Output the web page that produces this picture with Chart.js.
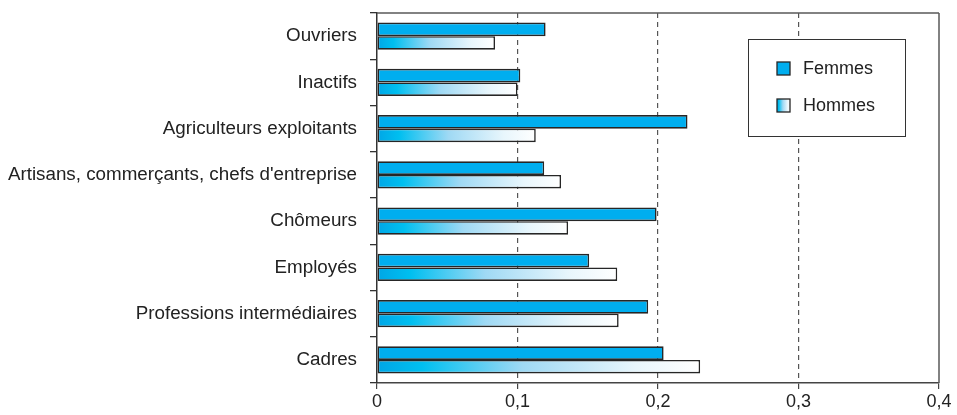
<!DOCTYPE html>
<html>
<head>
<meta charset="utf-8">
<script src="https://cdn.jsdelivr.net/npm/chart.js@4.4.0/dist/chart.umd.min.js"></script>
<style>
  html, body { margin: 0; padding: 0; background: #fff; }
  #wrap { width: 957px; height: 415px; position: relative; }
</style>
</head>
<body>
<div id="wrap"><canvas id="myChart" width="957" height="415"></canvas></div>
<script>
const categories = [
  "Ouvriers",
  "Inactifs",
  "Agriculteurs exploitants",
  "Artisans, commerçants, chefs d'entreprise",
  "Chômeurs",
  "Employés",
  "Professions intermédiaires",
  "Cadres"
];
const femmes = [0.120, 0.102, 0.221, 0.119, 0.199, 0.151, 0.193, 0.204];
const hommes = [0.084, 0.100, 0.113, 0.131, 0.136, 0.171, 0.172, 0.230];
const xTicks = [0, 0.1, 0.2, 0.3, 0.4];

const blue = "#00aeef";
const edge = "#262626";
const font = "'Liberation Sans', Arial, Helvetica, sans-serif";
const narrow = "'Liberation Sans Narrow', 'Arial Narrow', 'Liberation Sans', sans-serif";

// gradient blue -> white along the bar
function fade(ctx, x0, x1) {
  const g = ctx.createLinearGradient(x0, 0, x1, 0);
  g.addColorStop(0, "#00a6e6");
  g.addColorStop(0.14, "#00bff0");
  g.addColorStop(0.45, "#9fd9f4");
  g.addColorStop(0.8, "#e8f6fc");
  g.addColorStop(1, "#ffffff");
  return g;
}

const frame = {
  id: "frame",
  afterDraw(chart) {
    const { ctx, chartArea: a } = chart;
    ctx.save();
    // right + top border
    ctx.strokeStyle = "#5a5a5a";
    ctx.lineWidth = 1.5;
    ctx.beginPath();
    ctx.moveTo(a.right, a.top);
    ctx.lineTo(a.right, a.bottom);
    ctx.moveTo(a.left, a.top);
    ctx.lineTo(a.right, a.top);
    ctx.stroke();

    // legend box
    const bx = 748, by = 39, bw = 157, bh = 97;
    ctx.fillStyle = "#fff";
    ctx.fillRect(bx, by, bw, bh);
    ctx.strokeStyle = "#333";
    ctx.lineWidth = 1;
    ctx.strokeRect(bx + 0.5, by + 0.5, bw, bh);
    chart.data.datasets.forEach((ds, i) => {
      const sy = 62 + i * 37;
      const sx = 777;
      ctx.fillStyle = i === 0 ? blue : fade(ctx, sx, sx + 13);
      ctx.fillRect(sx, sy, 13, 13);
      ctx.strokeStyle = edge;
      ctx.lineWidth = 1.3;
      ctx.strokeRect(sx, sy, 13, 13);
      ctx.fillStyle = "#222";
      ctx.font = "18px " + font;
      ctx.textBaseline = "middle";
      ctx.textAlign = "left";
      ctx.fillText(ds.label, 803, sy + 7);
    });
    ctx.restore();
  }
};

new Chart(document.getElementById("myChart"), {
  type: "bar",
  data: {
    labels: categories,
    datasets: [
      {
        label: "Femmes",
        data: femmes,
        backgroundColor: blue,
        borderColor: edge,
        borderWidth: 1.6,
        borderSkipped: false
      },
      {
        label: "Hommes",
        data: hommes,
        backgroundColor: (c) => {
          const chart = c.chart;
          if (!chart.chartArea || c.raw === undefined) return blue;
          const x = chart.scales.x;
          return fade(chart.ctx, x.getPixelForValue(0), x.getPixelForValue(c.raw));
        },
        borderColor: edge,
        borderWidth: 1.6,
        borderSkipped: false
      }
    ]
  },
  options: {
    indexAxis: "y",
    responsive: false,
    animation: false,
    events: [],
    layout: { padding: { top: 13, right: 18, left: 0, bottom: 0 } },
    datasets: { bar: { categoryPercentage: 0.585, barPercentage: 1.0 } },
    plugins: {
      legend: { display: false },
      tooltip: { enabled: false }
    },
    scales: {
      x: {
        min: 0,
        max: 0.4,
        afterBuildTicks: (s) => { s.ticks = xTicks.map(v => ({ value: v })); },
        afterFit: (s) => { s.height = 32; s.paddingLeft = 0; s.paddingRight = 0; },
        ticks: {
          color: "#222",
          font: { family: narrow, size: 18 },
          padding: 2,
          callback: (v) => String(Math.round(v * 10) / 10).replace(".", ",")
        },
        grid: {
          color: (c) => (c.tick && c.tick.value > 0 && c.tick.value < 0.4) ? "#555" : "rgba(0,0,0,0)",
          tickColor: "#444",
          tickLength: 6,
          lineWidth: 1.2,
          drawTicks: true
        },
        border: { display: true, color: "#444", width: 1.5, dash: [5, 4] }
      },
      y: {
        afterFit: (s) => { s.width = 377; s.paddingTop = 0; s.paddingBottom = 0; },
        ticks: {
          color: "#222",
          font: { family: font, size: 18.8 },
          padding: 13
        },
        grid: {
          offset: true,
          drawOnChartArea: false,
          tickLength: 7,
          tickColor: "#333",
          lineWidth: 1.3
        },
        border: { display: true, color: "#333", width: 1.5 }
      }
    }
  },
  plugins: [frame]
});
</script>
</body>
</html>
